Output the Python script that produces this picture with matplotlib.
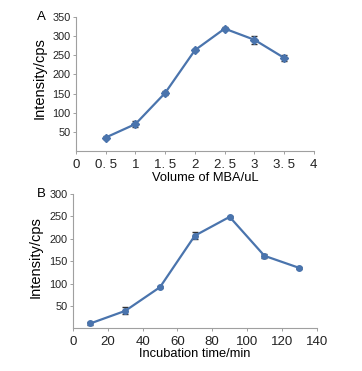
import matplotlib
matplotlib.use("Agg")
import matplotlib.pyplot as plt

plt.rcParams["font.family"] = ["Liberation Sans", "DejaVu Sans"]

# panel A
vol = [0.5, 1, 1.5, 2, 2.5, 3, 3.5]
inten_a = [36, 71, 152, 263, 319, 290, 243]
err_a = [3, 8, 5, 3, 3, 10, 8]
xticks_a = [0, 0.5, 1, 1.5, 2, 2.5, 3, 3.5, 4]
xlabels_a = ["0", "0. 5", "1", "1. 5", "2", "2. 5", "3", "3. 5", "4"]

# panel B
time = [10, 30, 50, 70, 90, 110, 130]
inten_b = [11, 39, 92, 207, 249, 162, 135]
err_b = [3, 8, 3, 8, 3, 5, 3]

blue = "#4a74ad"
axc = "#a0a0a0"

fig = plt.figure(figsize=(3.62, 3.71), dpi=100)
ax1 = fig.add_axes([0.21, 0.592, 0.657, 0.363])
ax2 = fig.add_axes([0.2017, 0.115, 0.673, 0.362])


def style(ax):
    for s in ["top", "right"]:
        ax.spines[s].set_visible(False)
    for s in ["left", "bottom"]:
        ax.spines[s].set_color(axc)
        ax.spines[s].set_linewidth(0.8)
    ax.tick_params(axis="y", length=2.5, width=0.7, color=axc, labelsize=7.8, pad=1.5,
                   labelcolor="#222222")
    ax.tick_params(axis="x", length=2.5, width=0.7, color=axc, labelsize=9.5, pad=3,
                   labelcolor="#222222")


ax1.errorbar(vol, inten_a, yerr=err_a, color=blue, marker="D", markersize=4,
             linewidth=1.6, capsize=2, elinewidth=1, ecolor="#333333")
ax1.set_xlim(0, 4)
ax1.set_ylim(0, 350)
ax1.set_yticks([50, 100, 150, 200, 250, 300, 350])
ax1.set_xticks(xticks_a)
ax1.set_xticklabels(xlabels_a)
style(ax1)
ax1.set_ylabel("Intensity/cps", fontsize=10.5)
ax1.yaxis.set_label_coords(-0.122, 0.548)
ax1.set_xlabel("Volume of MBA/uL", fontsize=9.3)
ax1.xaxis.set_label_coords(0.542, -0.15)
ax1.text(-0.164, 1.0, "A", transform=ax1.transAxes, fontsize=9.5, va="center", ha="left")

ax2.errorbar(time, inten_b, yerr=err_b, color=blue, marker="o", markersize=4,
             linewidth=1.6, capsize=2, elinewidth=1, ecolor="#333333")
ax2.set_xlim(0, 140)
ax2.set_ylim(0, 300)
ax2.set_yticks([50, 100, 150, 200, 250, 300])
ax2.set_xticks([0, 20, 40, 60, 80, 100, 120, 140])
style(ax2)
ax2.set_ylabel("Intensity/cps", fontsize=10.5)
ax2.yaxis.set_label_coords(-0.123, 0.531)
ax2.set_xlabel("Incubation time/min", fontsize=9.3)
ax2.xaxis.set_label_coords(0.5, -0.15)
ax2.text(-0.149, 1.0, "B", transform=ax2.transAxes, fontsize=9.5, va="center", ha="left")

fig.savefig("out.png", dpi=100)
